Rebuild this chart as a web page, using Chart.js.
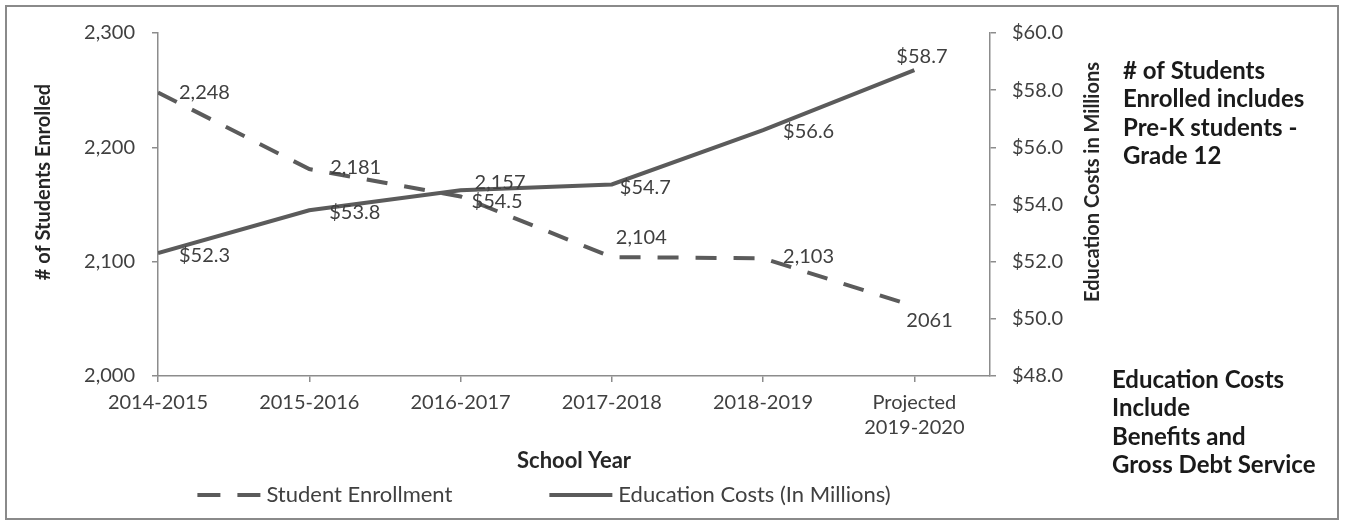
<!DOCTYPE html>
<html>
<head>
<meta charset="utf-8">
<script src="https://cdn.jsdelivr.net/npm/chart.js@4.4.1/dist/chart.umd.min.js"></script>
<style>
  html, body { margin: 0; padding: 0; background: #fff; }
  #wrap { position: relative; width: 1348px; height: 524px; }
</style>
</head>
<body>
<div id="wrap"><canvas id="chart" width="1348" height="524"></canvas></div>
<script>
// Data
const years = ['2014-2015', '2015-2016', '2016-2017', '2017-2018', '2018-2019', ['Projected', '2019-2020']];
const enrollment = [2248, 2181, 2157, 2104, 2103, 2061];
const costs = [52.3, 53.8, 54.5, 54.7, 56.6, 58.7];
const enrollTicks = [2000, 2100, 2200, 2300];
const costTicks = [48, 50, 52, 54, 56, 58, 60];

// label nudges, px from the point (left edge / middle of text)
const enrollShift = [[21, 0], [21, -2], [14, -14], [4, -20], [20, -2], [-8, 14]];
const costShift = [[21, 2], [20, 2], [11, 11], [8, 3], [20, 1], [-18, -14]];

const noteTop = ['# of Students', 'Enrolled includes', 'Pre-K students -', 'Grade 12'];
const noteBottom = ['Education Costs', 'Include', 'Benefits and', 'Gross Debt Service'];

const FONT = 'Lato';
const lineColor = '#5b5b5b';
const axisColor = '#8c8c8c';
const textColor = '#404040';

const enrollText = enrollment.map((v, i) => i === enrollment.length - 1 ? String(v) : v.toLocaleString('en-US'));
const costText = costs.map(v => '$' + v.toFixed(1));

// Plugins
const pointLabels = {
  id: 'pointLabels',
  afterDatasetsDraw(chart) {
    const ctx = chart.ctx;
    ctx.save();
    ctx.font = '20px ' + FONT;
    ctx.fillStyle = textColor;
    ctx.textBaseline = 'middle';
    chart.data.datasets.forEach((ds, di) => {
      chart.getDatasetMeta(di).data.forEach((pt, i) => {
        const [dx, dy] = ds.labelShift[i];
        ctx.fillText(ds.labelText[i], pt.x + dx, pt.y + dy);
      });
    });
    ctx.restore();
  }
};

function vText(ctx, text, x, y) {
  ctx.save();
  ctx.translate(x, y);
  ctx.rotate(-Math.PI / 2);
  ctx.textAlign = 'center';
  ctx.textBaseline = 'middle';
  ctx.fillText(text, 0, 0);
  ctx.restore();
}

const extras = {
  id: 'extras',
  beforeDraw(chart) {
    const ctx = chart.ctx;
    ctx.save();
    ctx.strokeStyle = '#8a8a8a';
    ctx.lineWidth = 2;
    ctx.strokeRect(6, 6, 1332, 513);
    ctx.restore();
  },
  afterDraw(chart) {
    const ctx = chart.ctx;
    const midY = 182;
    ctx.save();
    ctx.fillStyle = '#262626';
    ctx.font = 'bold 20px ' + FONT;
    vText(ctx, '# of Students Enrolled', 44, midY);
    vText(ctx, 'Education Costs in Millions', 1093, midY);

    ctx.fillStyle = '#1a1a1a';
    ctx.font = 'bold 24px ' + FONT;
    ctx.textBaseline = 'middle';
    noteTop.forEach((t, i) => ctx.fillText(t, 1123, 71 + i * 28.5));
    noteBottom.forEach((t, i) => ctx.fillText(t, 1112, 380 + i * 28.5));

    // legend
    ctx.font = '22px ' + FONT;
    ctx.fillStyle = textColor;
    const sample = 63, gap = 97;
    const items = chart.data.datasets.map(ds => ({ ds, w: sample + 6 + ctx.measureText(ds.label).width }));
    const total = items.reduce((s, it) => s + it.w, 0) + gap;
    let x = 544 - total / 2;
    const y = 495;
    items.forEach(it => {
      ctx.strokeStyle = it.ds.borderColor;
      ctx.lineWidth = 4;
      ctx.setLineDash(it.ds.legendDash);
      ctx.beginPath();
      ctx.moveTo(x, y);
      ctx.lineTo(x + sample, y);
      ctx.stroke();
      ctx.setLineDash([]);
      ctx.fillText(it.ds.label, x + sample + 6, y);
      x += it.w + gap;
    });
    ctx.restore();
  }
};

const ctx = document.getElementById('chart').getContext('2d');
const myChart = new Chart(ctx, {
  type: 'line',
  data: {
    datasets: [{
      label: 'Student Enrollment',
      data: enrollment.map((v, i) => ({ x: i, y: v })),
      yAxisID: 'y',
      borderColor: lineColor,
      borderWidth: 4,
      borderDash: [21, 17],
      legendDash: [23, 17],
      pointRadius: 0,
      tension: 0,
      order: 2,
      labelText: enrollText,
      labelShift: enrollShift
    }, {
      label: 'Education Costs (In Millions)',
      data: costs.map((v, i) => ({ x: i, y: v })),
      yAxisID: 'y2',
      borderColor: lineColor,
      borderWidth: 4,
      legendDash: [],
      pointRadius: 0,
      tension: 0,
      order: 1,
      labelText: costText,
      labelShift: costShift
    }]
  },
  options: {
    responsive: false,
    animation: false,
    layout: { padding: { top: 33, left: 0, right: 0, bottom: 50 } },
    plugins: {
      legend: { display: false },
      tooltip: { enabled: false }
    },
    scales: {
      x: {
        type: 'linear',
        min: 0,
        max: years.length - 0.5,
        afterBuildTicks: s => { s.ticks = years.map((_, i) => ({ value: i })); },
        afterFit: s => { s.height = 98; },
        grid: { drawOnChartArea: false, color: axisColor, tickLength: 6, lineWidth: 1.5 },
        border: { color: axisColor, width: 1.5 },
        ticks: {
          color: textColor,
          font: { family: FONT, size: 20, lineHeight: 1.25 },
          padding: 8,
          maxRotation: 0,
          autoSkip: false,
          callback: v => years[v]
        },
        title: {
          display: true,
          text: 'School Year',
          color: '#262626',
          font: { family: FONT, size: 22, weight: 'bold' },
          padding: 0
        }
      },
      y: {
        position: 'left',
        min: enrollTicks[0],
        max: enrollTicks[enrollTicks.length - 1],
        afterBuildTicks: s => { s.ticks = enrollTicks.map(v => ({ value: v })); },
        afterFit: s => { s.width = 158; },
        grid: { drawOnChartArea: false, color: axisColor, tickLength: 6, lineWidth: 1.5 },
        border: { color: axisColor, width: 1.5 },
        ticks: {
          color: textColor,
          font: { family: FONT, size: 20 },
          padding: 17,
          callback: v => v.toLocaleString('en-US')
        }
      },
      y2: {
        position: 'right',
        min: costTicks[0],
        max: costTicks[costTicks.length - 1],
        afterBuildTicks: s => { s.ticks = costTicks.map(v => ({ value: v })); },
        afterFit: s => { s.width = 1348 - 990; },
        grid: { drawOnChartArea: false, color: axisColor, tickLength: 6, lineWidth: 1.5 },
        border: { color: axisColor, width: 1.5 },
        ticks: {
          color: textColor,
          font: { family: FONT, size: 20 },
          padding: 16,
          callback: v => '$' + v.toFixed(1)
        }
      }
    }
  },
  plugins: [pointLabels, extras]
});
</script>
</body>
</html>
